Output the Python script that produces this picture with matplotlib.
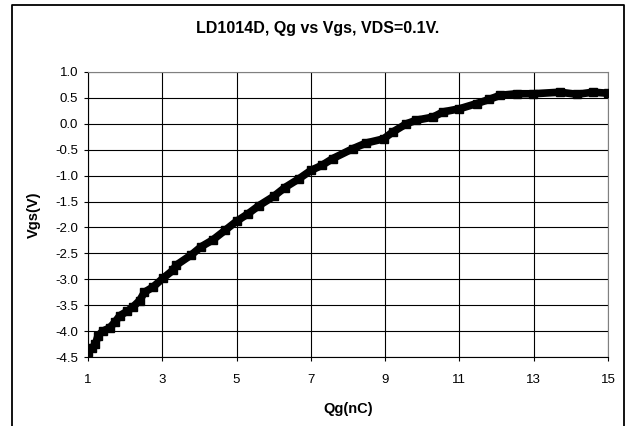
import matplotlib
matplotlib.use("Agg")
from matplotlib import pyplot as plt
from matplotlib.lines import Line2D

plt.rcParams['font.family'] = ['Liberation Sans', 'DejaVu Sans']

# gate charge (nC) vs gate-source voltage (V)
qg = [1.0, 1.1, 1.2, 1.27, 1.4, 1.58, 1.72, 1.86, 2.05, 2.2, 2.39, 2.52, 2.75,
      3.02, 3.28, 3.37, 3.78, 4.05, 4.36, 4.7, 5.0, 5.3, 5.6, 6.0, 6.3, 6.68,
      7.0, 7.3, 7.59, 8.13, 8.49, 8.96, 9.2, 9.57, 9.84, 10.29, 10.56, 11.0,
      11.46, 11.8, 12.09, 12.54, 12.99, 13.7, 14.16, 14.6, 15.0]
vgs = [-4.4, -4.33, -4.25, -4.09, -4.0, -3.94, -3.83, -3.7, -3.62, -3.54, -3.41,
       -3.25, -3.15, -2.98, -2.83, -2.73, -2.53, -2.37, -2.24, -2.05, -1.88,
       -1.74, -1.58, -1.4, -1.23, -1.06, -0.9, -0.8, -0.67, -0.48, -0.37,
       -0.29, -0.16, 0.0, 0.07, 0.13, 0.23, 0.29, 0.39, 0.47, 0.55, 0.58,
       0.58, 0.61, 0.57, 0.61, 0.59]
xticks = [1, 3, 5, 7, 9, 11, 13, 15]
yticks = [1.0, 0.5, 0.0, -0.5, -1.0, -1.5, -2.0, -2.5, -3.0, -3.5, -4.0, -4.5]

W, H = 626, 426
fig = plt.figure(figsize=(W / 100, H / 100), dpi=100)
ax = fig.add_axes([88 / W, 1 - 357 / H, (608 - 88) / W, (357 - 72) / H])

ax.plot(qg, vgs, color='black', lw=5.5, marker='s', ms=5.5,
        solid_capstyle='butt', solid_joinstyle='miter', zorder=3)

ax.set_xlim(1, 15)
ax.set_ylim(-4.5, 1.0)
ax.set_xticks(xticks)
ax.set_yticks(yticks)
ax.set_yticklabels([f"{v:.1f}" for v in yticks])
ax.grid(True, color='black', lw=0.8)
ax.tick_params(direction='out', length=3, width=0.8, labelsize=9.5, colors='black')
ax.tick_params(axis='x', pad=9)
ax.tick_params(axis='y', pad=4)
for s in ax.spines.values():
    s.set_color('black')
    s.set_linewidth(0.8)
ax.spines['right'].set_color('#808080')
ax.spines['top'].set_color('#808080')

ax.set_xlabel('Qg(nC)', fontsize=10.5, fontweight='bold', labelpad=12)
ax.set_ylabel('Vgs(V)', fontsize=10.5, fontweight='bold', labelpad=10)
fig.text(318 / W, 1 - 28 / H, 'LD1014D, Qg vs Vgs, VDS=0.1V.', ha='center',
         va='center', fontsize=11.5, fontweight='bold')

# chart area frame (bottom edge is cut off in the reference)
x0, x1, y0 = 12 / W, 624 / W, 1 - 5 / H
fig.add_artist(Line2D([x0, x0, x1, x1], [0, y0, y0, 0], color='black', lw=1.3))

fig.savefig('out.png', dpi=100)
